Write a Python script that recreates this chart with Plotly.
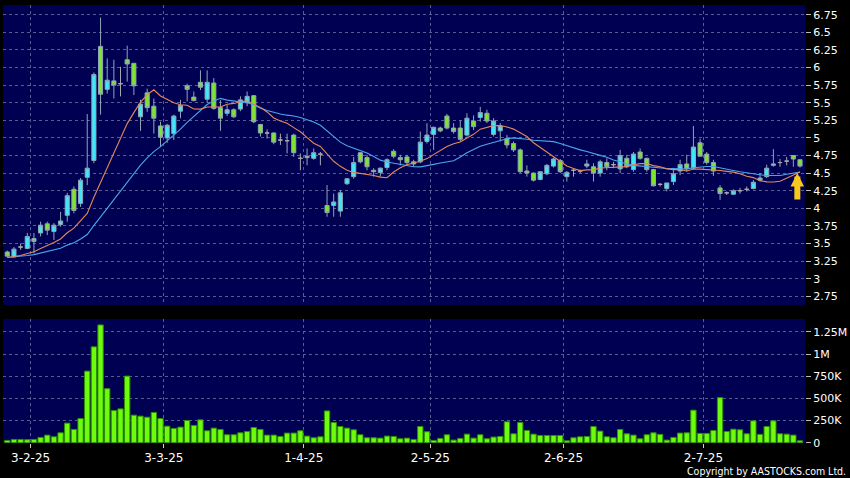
import pandas as pd
import plotly.graph_objects as go

# ---------------- data ----------------
holidays = ["2025-01-29", "2025-01-30", "2025-01-31", "2025-04-04", "2025-04-18",
            "2025-04-21", "2025-05-01", "2025-05-05", "2025-07-01"]
dates = [d for d in pd.bdate_range("2025-01-23", "2025-07-22")
         if d.strftime("%Y-%m-%d") not in holidays]
label_dates = ["2025-02-03", "2025-03-03", "2025-04-01", "2025-05-02", "2025-06-02", "2025-07-02"]
tick_labels = ["3-2-25", "3-3-25", "1-4-25", "2-5-25", "2-6-25", "2-7-25"]

open_ = [3.38, 3.31, 3.45, 3.43, 3.57, 3.65, 3.78, 3.67, 3.77, 3.90,
         4.27, 4.07, 4.44, 4.68, 6.30, 5.69, 5.81, 5.77, 6.11, 6.06,
         5.30, 5.64, 5.45, 5.17, 5.00, 5.06, 5.38, 5.74, 5.58, 5.79,
         5.55, 5.78, 5.43, 5.35, 5.40, 5.41, 5.50, 5.60, 5.19, 5.07,
         5.07, 4.97, 4.96, 5.04, 4.71, 4.74, 4.71, 4.77, 4.04, 4.04,
         3.96, 4.35, 4.45, 4.79, 4.72, 4.54, 4.51, 4.58, 4.81, 4.72,
         4.73, 4.66, 4.66, 4.95, 5.05, 5.14, 5.31, 5.14, 5.14, 5.04,
         5.24, 5.29, 5.35, 5.05, 5.10, 4.99, 4.92, 4.83, 4.53, 4.50,
         4.41, 4.49, 4.60, 4.68, 4.45, 4.54, 4.53, 4.60, 4.59, 4.50,
         4.65, 4.62, 4.56, 4.71, 4.55, 4.80, 4.71, 4.55, 4.34, 4.28,
         4.38, 4.53, 4.63, 4.57, 4.93, 4.77, 4.65, 4.29, 4.22, 4.20,
         4.25, 4.27, 4.28, 4.40, 4.45, 4.61, 4.65, 4.67, 4.75, 4.69]
high = [3.40, 3.45, 3.50, 3.65, 3.65, 3.81, 3.81, 3.79, 3.95, 4.22,
        4.31, 4.43, 5.34, 5.93, 6.71, 6.13, 6.11, 6.01, 6.31, 6.06,
        5.54, 5.70, 5.56, 5.23, 5.20, 5.33, 5.54, 5.77, 5.66, 5.96,
        5.96, 5.85, 5.54, 5.47, 5.42, 5.59, 5.66, 5.61, 5.20, 5.12,
        5.08, 5.06, 5.06, 5.06, 4.78, 4.85, 4.85, 4.80, 4.33, 4.21,
        4.26, 4.43, 4.73, 4.80, 4.76, 4.57, 4.58, 4.71, 4.84, 4.76,
        4.76, 4.69, 5.09, 5.21, 5.16, 5.16, 5.34, 5.21, 5.25, 5.35,
        5.32, 5.44, 5.40, 5.28, 5.21, 5.04, 4.95, 4.85, 4.61, 4.51,
        4.53, 4.63, 4.72, 4.70, 4.53, 4.57, 4.55, 4.69, 4.64, 4.69,
        4.71, 4.66, 4.83, 4.76, 4.80, 4.85, 4.72, 4.56, 4.36, 4.36,
        4.57, 4.69, 4.76, 5.17, 4.99, 4.80, 4.69, 4.33, 4.24, 4.27,
        4.29, 4.31, 4.40, 4.50, 4.62, 4.84, 4.70, 4.73, 4.75, 4.69]
low = [3.31, 3.30, 3.41, 3.42, 3.36, 3.60, 3.62, 3.55, 3.74, 3.81,
       3.93, 4.02, 4.33, 4.64, 5.33, 5.63, 5.56, 5.59, 5.80, 5.61,
       5.10, 5.37, 5.06, 4.87, 4.93, 4.97, 5.28, 5.52, 5.52, 5.68,
       5.50, 5.40, 5.10, 5.31, 5.28, 5.38, 5.45, 5.21, 5.02, 4.99,
       4.91, 4.90, 4.78, 4.73, 4.54, 4.61, 4.69, 4.61, 3.88, 3.88,
       3.88, 4.33, 4.42, 4.64, 4.54, 4.45, 4.45, 4.54, 4.71, 4.61,
       4.61, 4.59, 4.64, 4.92, 4.83, 5.08, 5.12, 5.06, 4.95, 5.02,
       5.11, 5.23, 5.21, 5.02, 4.95, 4.85, 4.80, 4.50, 4.45, 4.38,
       4.40, 4.47, 4.58, 4.50, 4.38, 4.45, 4.50, 4.57, 4.38, 4.45,
       4.54, 4.57, 4.50, 4.57, 4.52, 4.69, 4.52, 4.31, 4.31, 4.24,
       4.33, 4.47, 4.52, 4.55, 4.74, 4.62, 4.46, 4.12, 4.19, 4.19,
       4.21, 4.24, 4.27, 4.38, 4.43, 4.59, 4.59, 4.61, 4.59, 4.58]
close = [3.32, 3.42, 3.45, 3.60, 3.53, 3.76, 3.69, 3.76, 3.82, 4.18,
         3.97, 4.40, 4.57, 5.90, 5.62, 5.82, 5.75, 5.77, 6.05, 5.74,
         5.48, 5.43, 5.28, 5.01, 5.18, 5.31, 5.46, 5.69, 5.53, 5.72,
         5.79, 5.42, 5.28, 5.40, 5.30, 5.54, 5.59, 5.23, 5.07, 5.07,
         4.94, 4.97, 4.96, 4.79, 4.71, 4.72, 4.79, 4.77, 3.94, 4.09,
         4.22, 4.42, 4.65, 4.66, 4.59, 4.52, 4.57, 4.69, 4.74, 4.69,
         4.65, 4.63, 4.94, 5.04, 5.15, 5.10, 5.14, 5.09, 4.98, 5.28,
         5.16, 5.36, 5.24, 5.24, 5.17, 4.90, 4.83, 4.52, 4.50, 4.40,
         4.52, 4.61, 4.70, 4.52, 4.51, 4.54, 4.53, 4.63, 4.50, 4.66,
         4.59, 4.62, 4.75, 4.59, 4.77, 4.71, 4.55, 4.32, 4.34, 4.36,
         4.49, 4.62, 4.56, 4.87, 4.74, 4.65, 4.53, 4.21, 4.22, 4.25,
         4.25, 4.27, 4.37, 4.43, 4.57, 4.63, 4.65, 4.67, 4.70, 4.60]
volume = [26e3, 37e3, 37e3, 34e3, 37e3, 60e3, 86e3, 67e3, 112e3, 221e3,
          150e3, 273e3, 808e3, 1082e3, 1329e3, 610e3, 363e3, 382e3, 752e3, 311e3,
          300e3, 288e3, 341e3, 273e3, 187e3, 161e3, 176e3, 251e3, 195e3, 258e3,
          135e3, 165e3, 150e3, 90e3, 90e3, 112e3, 127e3, 172e3, 150e3, 86e3,
          86e3, 71e3, 109e3, 109e3, 135e3, 75e3, 56e3, 67e3, 359e3, 228e3,
          183e3, 165e3, 146e3, 90e3, 56e3, 56e3, 52e3, 75e3, 71e3, 45e3,
          52e3, 37e3, 183e3, 124e3, 26e3, 49e3, 90e3, 30e3, 49e3, 97e3,
          52e3, 90e3, 45e3, 64e3, 71e3, 236e3, 101e3, 228e3, 138e3, 97e3,
          82e3, 82e3, 82e3, 82e3, 22e3, 56e3, 67e3, 71e3, 183e3, 131e3,
          67e3, 56e3, 150e3, 101e3, 86e3, 45e3, 90e3, 112e3, 94e3, 30e3,
          60e3, 109e3, 112e3, 367e3, 105e3, 105e3, 138e3, 509e3, 127e3, 153e3,
          146e3, 101e3, 247e3, 94e3, 183e3, 247e3, 101e3, 97e3, 86e3, 22e3]
ma10 = [3.302, 3.314, 3.329, 3.359, 3.382, 3.428, 3.467, 3.513, 3.565, 3.653,
        3.718, 3.816, 3.928, 4.158, 4.367, 4.573, 4.779, 4.980, 5.203, 5.359,
        5.510, 5.613, 5.684, 5.595, 5.551, 5.500, 5.471, 5.463, 5.411, 5.409,
        5.440, 5.439, 5.439, 5.478, 5.490, 5.513, 5.526, 5.480, 5.434, 5.369,
        5.284, 5.239, 5.207, 5.146, 5.087, 5.005, 4.925, 4.879, 4.766, 4.668,
        4.596, 4.541, 4.510, 4.497, 4.485, 4.465, 4.443, 4.435, 4.515, 4.575,
        4.618, 4.639, 4.668, 4.706, 4.762, 4.820, 4.877, 4.917, 4.941, 5.000,
        5.051, 5.124, 5.154, 5.174, 5.176, 5.156, 5.125, 5.068, 5.020, 4.932,
        4.868, 4.793, 4.739, 4.667, 4.601, 4.565, 4.535, 4.546, 4.546, 4.572,
        4.579, 4.580, 4.585, 4.592, 4.618, 4.635, 4.637, 4.606, 4.590, 4.560,
        4.550, 4.550, 4.531, 4.559, 4.556, 4.550, 4.548, 4.537, 4.525, 4.514,
        4.490, 4.455, 4.436, 4.392, 4.375, 4.373, 4.385, 4.431, 4.479, 4.514]
ma20 = [3.302, 3.308, 3.315, 3.330, 3.342, 3.365, 3.384, 3.407, 3.433, 3.477,
        3.510, 3.565, 3.628, 3.758, 3.874, 4.000, 4.123, 4.246, 4.384, 4.506,
        4.614, 4.715, 4.806, 4.877, 4.959, 5.037, 5.125, 5.222, 5.307, 5.384,
        5.475, 5.526, 5.562, 5.537, 5.521, 5.507, 5.499, 5.472, 5.423, 5.389,
        5.362, 5.339, 5.323, 5.312, 5.289, 5.259, 5.226, 5.180, 5.100, 5.019,
        4.940, 4.890, 4.859, 4.822, 4.786, 4.735, 4.684, 4.657, 4.641, 4.622,
        4.607, 4.590, 4.589, 4.602, 4.624, 4.643, 4.660, 4.676, 4.728, 4.788,
        4.835, 4.882, 4.911, 4.940, 4.969, 4.988, 5.001, 4.993, 4.981, 4.966,
        4.960, 4.959, 4.947, 4.921, 4.889, 4.861, 4.830, 4.807, 4.783, 4.752,
        4.724, 4.687, 4.662, 4.630, 4.610, 4.600, 4.586, 4.576, 4.568, 4.566,
        4.565, 4.565, 4.558, 4.576, 4.587, 4.593, 4.593, 4.572, 4.558, 4.537,
        4.520, 4.503, 4.484, 4.476, 4.466, 4.462, 4.467, 4.484, 4.502, 4.514]

price_ticks = [2.75, 3, 3.25, 3.5, 3.75, 4, 4.25, 4.5, 4.75, 5, 5.25, 5.5, 5.75, 6, 6.25, 6.5, 6.75]
vol_ticks = [0, 250e3, 500e3, 750e3, 1e6, 1.25e6]
vol_tick_text = ["0", "250K", "500K", "750K", "1M", "1.25M"]

# ---------------- figure ----------------
idx = list(range(len(dates)))
date_keys = [d.strftime("%Y-%m-%d") for d in dates]
tick_pos = [date_keys.index(d) - 0.5 for d in label_dates]

UP_FILL, UP_LINE = "#3ee8f8", "#8fa6b8"
DN_FILL, DN_LINE = "#7ee62a", "#8fa6b8"
GRID = "#5b5b8c"
BG = "#000052"


def subset(cond):
    sel = [i for i in idx if cond(open_[i], close[i])]
    return (sel, [open_[i] for i in sel], [high[i] for i in sel],
            [low[i] for i in sel], [close[i] for i in sel])


fig = go.Figure()
for cond, fill, line in [
        (lambda o, c: c > o, UP_FILL, UP_LINE),
        (lambda o, c: c < o, DN_FILL, DN_LINE),
        (lambda o, c: c == o, "#a0a0a0", "#a8a8b0")]:
    xs, o, h, l, c = subset(cond)
    fig.add_trace(go.Candlestick(
        x=xs, open=o, high=h, low=l, close=c,
        increasing=dict(fillcolor=fill, line=dict(color=line, width=1)),
        decreasing=dict(fillcolor=fill, line=dict(color=line, width=1)),
        whiskerwidth=0, xaxis="x", yaxis="y", hoverinfo="skip"))

fig.add_trace(go.Scatter(x=idx, y=ma20, mode="lines", line=dict(color="#4aa6ea", width=1.1),
                         xaxis="x", yaxis="y", hoverinfo="skip"))
fig.add_trace(go.Scatter(x=idx, y=ma10, mode="lines", line=dict(color="#e7875a", width=1.1),
                         xaxis="x", yaxis="y", hoverinfo="skip"))

fig.add_trace(go.Bar(x=idx, y=volume, width=0.8,
                     marker=dict(color="#6cfc0c", line=dict(color="#2f8f06", width=1)),
                     xaxis="x2", yaxis="y2", hoverinfo="skip"))

xrange = [-0.644, len(dates) - 1 + 0.75]
axis_font = dict(family="DejaVu Sans", size=11, color="#ffffff")

common_x = dict(range=xrange, showline=False, zeroline=False, fixedrange=True,
                tickvals=tick_pos, showgrid=True, gridcolor=GRID, griddash="3px,3px",
                gridwidth=1)

fig.update_layout(
    width=850, height=478,
    paper_bgcolor="#000000", plot_bgcolor=BG,
    margin=dict(l=3, r=43, t=5, b=35),
    showlegend=False,
    boxgap=0.12,
    font=axis_font,
    xaxis=dict(common_x, anchor="y", showticklabels=False, ticks="",
               rangeslider=dict(visible=False)),
    xaxis2=dict(common_x, anchor="y2", matches="x", ticktext=tick_labels,
                showticklabels=True, ticks="outside", ticklen=4, tickcolor="#cccccc",
                tickfont=dict(family="DejaVu Sans", size=12, color="#ffffff")),
    yaxis=dict(domain=[0.315, 1.0], range=[2.626, 6.888], side="right",
               tickvals=price_ticks, showgrid=True, gridcolor=GRID, griddash="3px,3px",
               zeroline=False, ticks="outside", ticklen=5, tickcolor="#bbbbbb",
               tickfont=dict(family="DejaVu Sans", size=11, color="#ffffff"),
               fixedrange=True),
    yaxis2=dict(domain=[0.0, 0.2831], range=[-3000, 1.396e6], side="right",
                tickvals=vol_ticks, ticktext=vol_tick_text, showgrid=True,
                gridcolor=GRID, griddash="3px,3px", zeroline=False,
                ticks="outside", ticklen=5, tickcolor="#bbbbbb",
                tickfont=dict(family="DejaVu Sans", size=11, color="#ffffff"),
                fixedrange=True),
    annotations=[
        dict(x=len(dates) - 1.4, y=ma20[-2], xref="x", yref="y", ax=0, ay=28,
             showarrow=True, arrowhead=2, arrowsize=0.45, arrowwidth=6,
             arrowcolor="#f9c81e", text=""),
        dict(x=1.0535, y=-0.064, xref="paper", yref="paper", xanchor="right",
             yanchor="middle", showarrow=False, text="Copyright by AASTOCKS.com Ltd.",
             font=dict(family="DejaVu Sans Condensed, DejaVu Sans", size=10.5,
                       color="#ffffff")),
    ],
)

fig.write_html("out.html", config={"displayModeBar": False},
               post_script="document.body.style.margin='0';document.body.style.background='#000';")
